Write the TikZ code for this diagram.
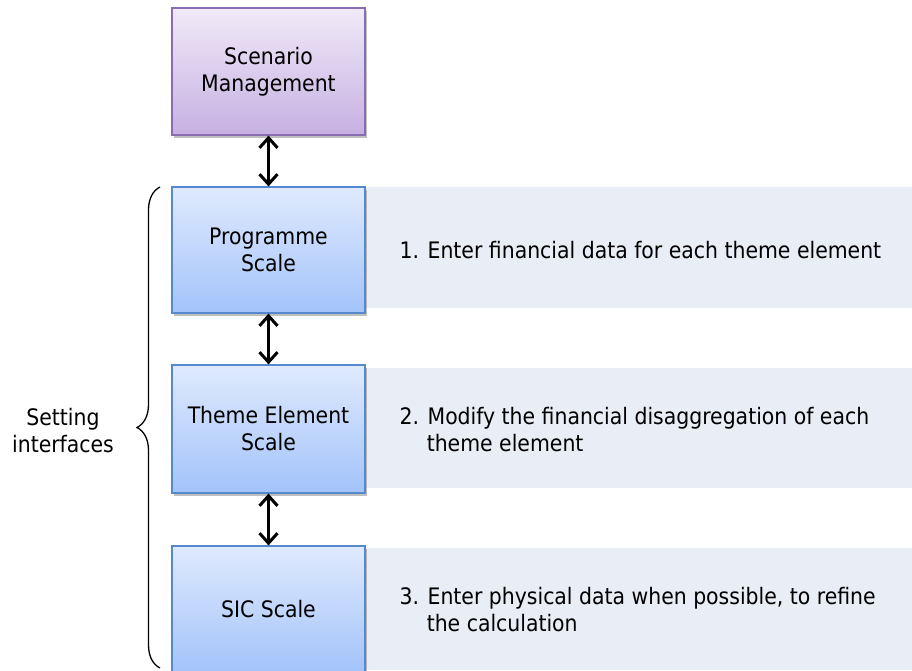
\documentclass[tikz,border=0pt]{standalone}
\usepackage{fontspec}
\setmainfont{DejaVu Sans Condensed}
\usetikzlibrary{shadows,arrows.meta,decorations.pathreplacing}
\definecolor{pTop}{HTML}{F1EAF8}
\definecolor{pBot}{HTML}{C6B0E2}
\definecolor{pLine}{HTML}{8A6CB2}
\definecolor{bTop}{HTML}{DFEAFD}
\definecolor{bBot}{HTML}{A3C3FA}
\definecolor{bLine}{HTML}{5588CC}
\definecolor{panel}{HTML}{E9EDF5}
\tikzset{
  x=1pt, y=-1pt,
  base/.style={rectangle, minimum width=193pt, align=center, font=\fontsize{22.7}{27}\selectfont, line width=1.2pt,
    drop shadow={shadow xshift=2pt, shadow yshift=-3pt, opacity=0.5, fill=black!50}},
  purplebox/.style={base, draw=pLine, top color=pTop, bottom color=pBot},
  bluebox/.style={base, draw=bLine, top color=bTop, bottom color=bBot},
  desc/.style={anchor=west, align=left, font=\fontsize{22.7}{27}\selectfont},
  link/.style={line width=3pt, {Straight Barb[length=10pt,width=18pt,line width=3pt]}-{Straight Barb[length=10pt,width=18pt,line width=3pt]}},
}
\begin{document}
\begin{tikzpicture}
\useasboundingbox (0,0) rectangle (912,670);
% panels
\fill[panel] (365,187) rectangle (912,308);
\fill[panel] (365,368) rectangle (912,488);
\fill[panel] (365,548) rectangle (912,670);
% boxes
\node[purplebox, minimum height=127pt] (scen) at (268.5,71.5) {Scenario\\Management};
\node[bluebox, minimum height=126pt] (prog) at (268.5,250) {Programme\\Scale};
\node[bluebox, minimum height=128pt] (theme) at (268.5,429) {Theme Element\\Scale};
\node[bluebox, minimum height=126pt] (sic) at (268.5,609) {SIC Scale};
% arrows
\draw[link] (scen.south) -- (prog.north);
\draw[link] (prog.south) -- (theme.north);
\draw[link] (theme.south) -- (sic.north);
% descriptions
\node[desc] (d1) at (396,250) {1. Enter financial data for each theme element};
\node[desc] (d2) at (396,430) {2. Modify the financial disaggregation of each\\\hspace*{1.2em}theme element};
\node[desc] (d3) at (396,610) {3. Enter physical data when possible, to refine\\\hspace*{1.2em}the calculation};
% brace
\coordinate (bb) at (160,668);
\coordinate (bt) at (160,187);
\draw[line width=1.3pt, decorate, decoration={brace, amplitude=23pt}] (bb) -- (bt);
\node[align=center, font=\fontsize{22.7}{27}\selectfont] (lab) at (63,431) {Setting\\interfaces};
\end{tikzpicture}
\end{document}
